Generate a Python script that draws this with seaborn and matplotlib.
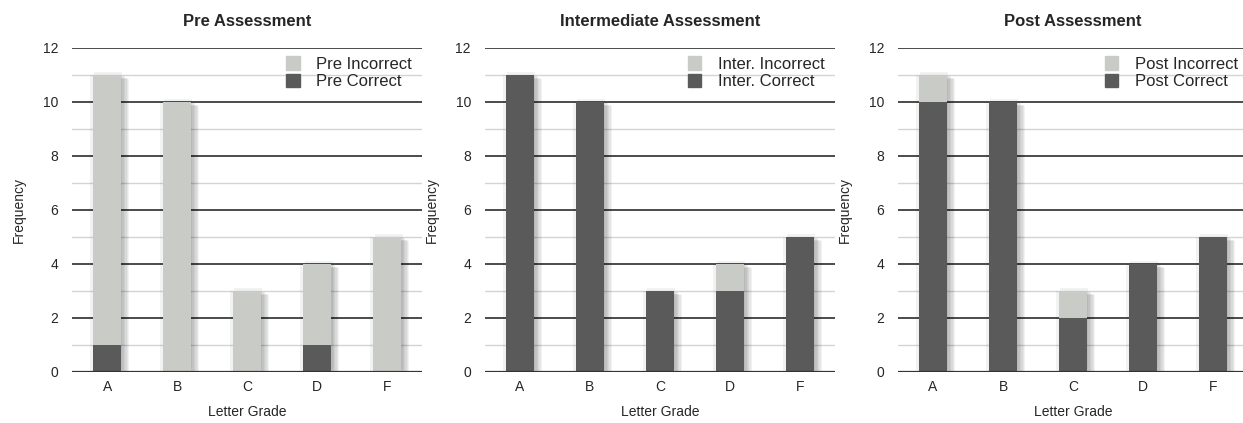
import matplotlib
matplotlib.use("Agg")
import matplotlib.pyplot as plt
import matplotlib.patheffects as pe
from matplotlib.patches import Patch
import pandas as pd
import seaborn as sns

grades = ["A", "B", "C", "D", "F"]
titles = ["Pre Assessment", "Intermediate Assessment", "Post Assessment"]
prefixes = ["Pre", "Inter.", "Post"]

# total students per grade and how many answered correctly
pre_total = [11, 10, 3, 4, 5]
pre_correct = [1, 0, 0, 1, 0]
inter_total = [11, 10, 3, 4, 5]
inter_correct = [11, 10, 3, 3, 5]
post_total = [11, 10, 3, 4, 5]
post_correct = [10, 10, 2, 4, 5]

totals = [pre_total, inter_total, post_total]
corrects = [pre_correct, inter_correct, post_correct]

light = "#c8cbc6"
dark = "#5a5a5a"

sns.set_style("white")
plt.rcParams["font.family"] = ["Liberation Sans", "DejaVu Sans"]

fig = plt.figure(figsize=(12.43, 4.23), dpi=100)
lefts = [0.058, 0.390, 0.7225]

# fake soft drop shadow: stack of faint offset copies
shadow = [pe.SimplePatchShadow(offset=(dx, dy), shadow_rgbFace="k", alpha=0.05)
          for dx, dy in [(6, -3), (5, -2), (4, -2), (3, -1), (2, -1), (-2, 0), (1, 2)]]
shadow += [pe.Normal()]

for i in range(3):
    ax = fig.add_axes([lefts[i], 0.1206, 0.2816, 0.766])
    df = pd.DataFrame({"grade": grades, "total": totals[i], "correct": corrects[i]})
    sns.barplot(data=df, x="grade", y="total", color=light, width=0.4,
                saturation=1, linewidth=0, ax=ax, zorder=3)
    sns.barplot(data=df, x="grade", y="correct", color=dark, width=0.4,
                saturation=1, linewidth=0, ax=ax, zorder=4)
    for j, p in enumerate(ax.patches):
        if j < 5:
            p.set_path_effects(shadow)
    ax.set_ylim(0, 12)
    ax.set_xlim(-0.5, 4.5)
    for v in range(1, 12, 2):
        ax.axhline(v, color="#d4d4d4", lw=1, zorder=1)
    for v in range(2, 13, 2):
        ax.axhline(v, color="#1a1a1a", lw=1.1, zorder=1)
    ax.axhline(0, color="#333333", lw=1.6, zorder=5)
    ax.set_yticks(range(0, 13, 2))
    ax.tick_params(axis="both", length=0, labelsize=10, pad=10)
    ax.tick_params(axis="x", pad=6)
    sns.despine(ax=ax, left=True, bottom=True)
    ax.set_title(titles[i], fontsize=12, fontweight="bold", pad=16)
    ax.set_xlabel("Letter Grade", fontsize=10, labelpad=8)
    ax.set_ylabel("Frequency", fontsize=10, labelpad=12)
    handles = [Patch(color=light, label=prefixes[i] + " Incorrect"),
               Patch(color=dark, label=prefixes[i] + " Correct")]
    ax.legend(handles=handles, loc="upper right", bbox_to_anchor=(0.99, 0.995),
              frameon=False, fontsize=12, handlelength=0.8, handleheight=0.9,
              handletextpad=1.0, labelspacing=0.1, borderaxespad=0)

fig.savefig("out.png", dpi=100)
